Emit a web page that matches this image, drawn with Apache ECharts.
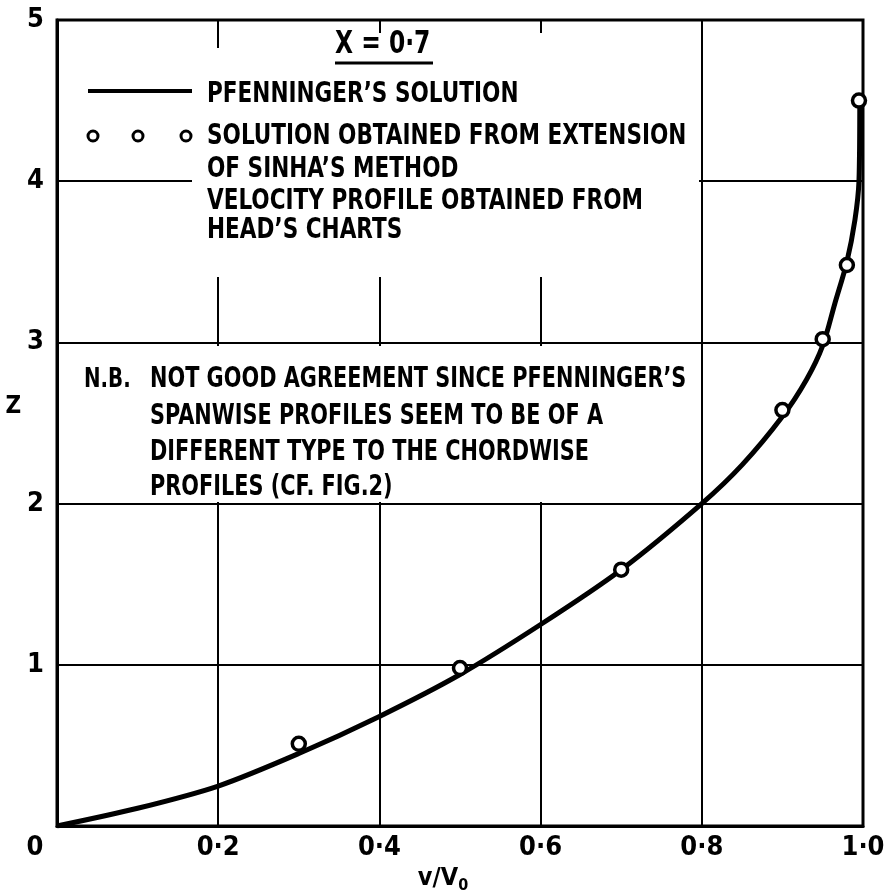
<!DOCTYPE html>
<html>
<head>
<meta charset="utf-8">
<script src="https://cdn.jsdelivr.net/npm/echarts@6/dist/echarts.min.js"></script>
<style>
  html, body { margin: 0; padding: 0; background: #fff; }
  #chart { width: 885px; height: 894px; }
</style>
</head>
<body>
<div id="chart"></div>
<script>
// Pfenninger's solution (continuous curve), z against v/V0
const curveX = [0, 0.1, 0.2, 0.3, 0.4, 0.5, 0.6, 0.7, 0.8, 0.85, 0.9, 0.93, 0.95, 0.965, 0.98, 0.99, 0.995, 0.996];
const curveZ = [0, 0.11, 0.248, 0.45, 0.68, 0.94, 1.25, 1.59, 2.0, 2.24, 2.54, 2.77, 2.98, 3.24, 3.5, 3.76, 4.0, 4.5];

// Points from the extension of Sinha's method
const sinhaX = [0.3, 0.5, 0.7, 0.9, 0.95, 0.98, 0.995];
const sinhaZ = [0.51, 0.98, 1.59, 2.58, 3.02, 3.48, 4.5];

// Axis tick labels
const xTickLabels = ['0', '0·2', '0·4', '0·6', '0·8', '1·0'];
const yTickLabels = ['', '1', '2', '3', '4', '5'];

const FONT = '"DejaVu Sans Condensed", "Liberation Sans Narrow", "Roboto Condensed", sans-serif';

const chart = echarts.init(document.getElementById('chart'), null, { renderer: 'canvas' });

// stencil-style lettering: condensed bold, stretched vertically
function txt(text, x, y, size, sx) {
  return {
    type: 'text', x: x, y: y, z: 20, scaleX: sx || 1, scaleY: 1.2,
    style: {
      text: text, fill: '#000',
      font: 'bold ' + size + 'px ' + FONT,
      textAlign: 'left', textVerticalAlign: 'middle'
    }
  };
}

function mask(x1, y1, x2, y2) {
  return {
    type: 'rect', z: 1, silent: true,
    shape: { x: x1, y: y1, width: x2 - x1, height: y2 - y1 },
    style: { fill: '#fff' }
  };
}

const legendRows = [
  'PFENNINGER’S SOLUTION',
  'SOLUTION OBTAINED FROM EXTENSION',
  'OF SINHA’S METHOD',
  'VELOCITY PROFILE OBTAINED FROM',
  'HEAD’S CHARTS'
];
const legendRowY = [95, 137, 170, 202, 231];

const noteRows = [
  'NOT GOOD AGREEMENT SINCE PFENNINGER’S',
  'SPANWISE PROFILES SEEM TO BE OF A',
  'DIFFERENT TYPE TO THE CHORDWISE',
  'PROFILES (CF. FIG.2)'
];
const noteRowY = [380, 417, 453, 488];

const graphics = [
  // white panels behind the annotation text
  mask(84, 48, 699, 160),
  mask(222, 33, 699, 48),
  mask(192, 160, 699, 277),
  mask(59, 346, 699, 502),
  // title
  txt('X = 0·7', 335, 45, 26),
  { type: 'line', z: 20, shape: { x1: 335, y1: 63, x2: 433, y2: 63 }, style: { stroke: '#000', lineWidth: 3 } },
  // legend samples
  { type: 'line', z: 20, shape: { x1: 88, y1: 91, x2: 192, y2: 91 }, style: { stroke: '#000', lineWidth: 4 } },
  { type: 'circle', z: 20, shape: { cx: 93, cy: 136, r: 5 }, style: { fill: '#fff', stroke: '#000', lineWidth: 3 } },
  { type: 'circle', z: 20, shape: { cx: 138, cy: 136, r: 5 }, style: { fill: '#fff', stroke: '#000', lineWidth: 3 } },
  { type: 'circle', z: 20, shape: { cx: 186, cy: 136, r: 5 }, style: { fill: '#fff', stroke: '#000', lineWidth: 3 } },
  txt('N.B.', 84, noteRowY[0], 22)
];
legendRows.forEach((t, i) => graphics.push(txt(t, 207, legendRowY[i], 24)));
noteRows.forEach((t, i) => graphics.push(txt(t, 150, noteRowY[i], 24, 0.965)));

const labelStyle = { color: '#000', fontFamily: FONT, fontWeight: 'bold', fontSize: 27 };

const option = {
  backgroundColor: '#fff',
  animation: false,
  grid: {
    left: 57, right: 22, top: 20, bottom: 68,
    outerBoundsMode: 'none', containLabel: false,
    show: true, borderColor: '#000', borderWidth: 3, backgroundColor: 'transparent'
  },
  xAxis: {
    type: 'value', min: 0, max: 1, interval: 0.2,
    name: 'v/V{sub|0}',
    nameLocation: 'middle', nameGap: 36,
    nameTextStyle: {
      color: '#000', fontFamily: FONT, fontWeight: 'bold', fontSize: 25,
      padding: [0, 34, 0, 0],
      rich: { sub: { fontFamily: FONT, fontWeight: 'bold', fontSize: 16, verticalAlign: 'bottom', padding: [14, 0, 0, 0] } }
    },
    axisLine: { show: true, lineStyle: { color: '#000', width: 3 } },
    axisTick: { show: false },
    splitLine: { show: true, lineStyle: { color: '#000', width: 2 } },
    axisLabel: Object.assign({}, labelStyle, {
      margin: 8,
      formatter: function (v) {
        const s = xTickLabels[Math.round(v / 0.2)];
        return v === 0 ? '{o|' + s + '}' : s;
      },
      rich: { o: { fontFamily: FONT, fontWeight: 'bold', fontSize: 27, padding: [0, 44, 0, 0] } }
    })
  },
  yAxis: {
    type: 'value', min: 0, max: 5, interval: 1,
    name: 'Z',
    nameLocation: 'middle', nameGap: 32, nameRotate: 0,
    nameTextStyle: {
      color: '#000', fontFamily: FONT, fontWeight: 'bold', fontSize: 24,
      verticalAlign: 'bottom', lineHeight: 32
    },
    axisLine: { show: true, lineStyle: { color: '#000', width: 3 } },
    axisTick: { show: false },
    splitLine: { show: true, lineStyle: { color: '#000', width: 2 } },
    axisLabel: Object.assign({}, labelStyle, {
      margin: 13,
      formatter: function (v) { return yTickLabels[Math.round(v)]; }
    })
  },
  graphic: { elements: graphics },
  series: [
    {
      name: 'Pfenninger',
      type: 'line', z: 5,
      data: curveX.map((x, i) => [x, curveZ[i]]),
      smooth: 0.3,
      showSymbol: false,
      lineStyle: { color: '#000', width: 5 }
    },
    {
      name: 'Sinha',
      type: 'scatter', z: 6,
      data: sinhaX.map((x, i) => [x, sinhaZ[i]]),
      symbol: 'circle', symbolSize: 13,
      itemStyle: { color: '#fff', borderColor: '#000', borderWidth: 3.5, opacity: 1 }
    }
  ]
};

chart.setOption(option);
</script>
</body>
</html>
